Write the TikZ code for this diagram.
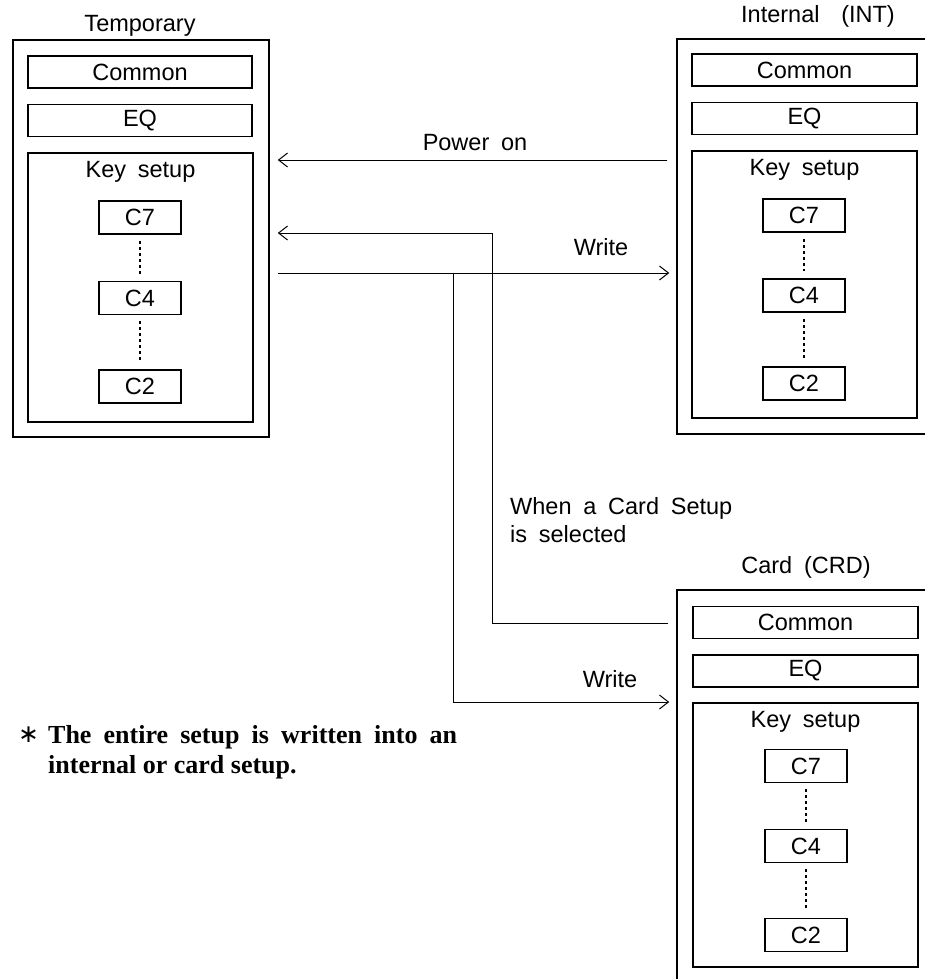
\documentclass[tikz,border=0pt]{standalone}
\usepackage{fontspec}
\setmainfont{Liberation Serif}
\newfontfamily\labfont[WordSpace=1.8]{Liberation Sans}
\newfontfamily\symfont{DejaVu Sans}
\usetikzlibrary{arrows.meta}
\begin{document}
\begin{tikzpicture}[x=1pt,y=-1pt,
  lbl/.style={font={\labfont\fontsize{23.5}{28}\selectfont}, inner sep=0pt},
  outerbox/.style={draw, line width=1.5pt, inner sep=0pt},
  keybox/.style={draw, line width=1.3pt, inner sep=0pt},
  inbox/.style={lbl, draw, line width=1.3pt},
  widebox/.style={inbox, minimum width=225pt, minimum height=32pt},
  cbox/.style={inbox, minimum width=82pt, minimum height=33pt},
  dots/.style={line width=1.6pt, dash pattern=on 3pt off 3pt, shorten <=6pt, shorten >=7pt},
  conn/.style={line width=1pt},
  arr/.style={conn, -{Straight Barb[length=9pt,width=14pt]}},
  note/.style={font={\bfseries\fontsize{26}{30}\selectfont\hyphenpenalty=10000\exhyphenpenalty=10000}, inner sep=0pt}]
\fill[white] (0,0) rectangle (924,979);
\useasboundingbox (0,0) rectangle (924,979);

% ---------- Temporary ----------
\node[outerbox, minimum width=256pt, minimum height=397pt] (tmp) at (141,238.5) {};
\node[lbl, anchor=base] (tmpT) at (140,32) {Temporary};
\node[widebox, minimum width=224pt] (tmpC) at (140,72) {Common};
\node[widebox, minimum width=224pt] (tmpE) at (140,120.5) {EQ};
\node[keybox, minimum width=225pt, minimum height=269pt] (tmpK) at (140.5,287.5) {};
\node[lbl, anchor=base] (tmpKL) at (140.5,177) {Key setup};
\node[cbox] (t7) at (140,217.5) {C7};
\node[cbox] (t4) at (140,298) {C4};
\node[cbox] (t2) at (140,386.5) {C2};
\draw[dots] (t7.south) -- (t4.north);
\draw[dots] (t4.south) -- (t2.north);

% ---------- Internal ----------
\node[outerbox, minimum width=263pt, minimum height=395pt] (int) at (808.5,236.5) {};
\node[lbl, anchor=base] (intT) at (818,23) {Internal\hspace{10pt} (INT)};
\node[widebox] (intC) at (804.5,70) {Common};
\node[widebox] (intE) at (804.5,118.5) {EQ};
\node[keybox, minimum width=225pt, minimum height=267pt] (intK) at (804.5,284.5) {};
\node[lbl, anchor=base] (intKL) at (804.5,175) {Key setup};
\node[cbox] (i7) at (804,215.5) {C7};
\node[cbox] (i4) at (804,295.5) {C4};
\node[cbox] (i2) at (804,383.5) {C2};
\draw[dots] (i7.south) -- (i4.north);
\draw[dots] (i4.south) -- (i2.north);

% ---------- Card ----------
\node[outerbox, minimum width=263pt, minimum height=410pt] (card) at (808.5,795) {};
\node[lbl, anchor=base] (cardT) at (806,573) {Card (CRD)};
\node[widebox] (cardC) at (805.5,622.5) {Common};
\node[widebox] (cardE) at (805.5,671) {EQ};
\node[keybox, minimum width=225pt, minimum height=264pt] (cardK) at (805.5,835) {};
\node[lbl, anchor=base] (cardKL) at (805.5,727) {Key setup};
\node[cbox] (c7) at (806,766) {C7};
\node[cbox] (c4) at (806,846) {C4};
\node[cbox] (c2) at (806,935) {C2};
\draw[dots] (c7.south) -- (c4.north);
\draw[dots] (c4.south) -- (c2.north);

% ---------- connectors ----------
\coordinate (yPwr) at (0,160);
\coordinate (yTop) at (0,233);
\coordinate (yW) at (0,273);
\coordinate (yRet) at (0,623);
\coordinate (yW2) at (0,702);
\coordinate (turn) at (492,233);
\coordinate (jn) at (453,273);

\draw[arr, shorten <=9pt, shorten >=8pt] (int.west |- yPwr) -- (tmp.east |- yPwr);
\node[lbl, anchor=base] (lPwr) at (475,150) {Power on};

\draw[arr, shorten <=8pt, shorten >=8pt] (card.west |- yRet) -| (turn) -- (tmp.east |- yTop);

\draw[arr, shorten <=8pt, shorten >=7pt] (tmp.east |- yW) -- (int.west |- yW);
\node[lbl, anchor=base] (lW1) at (601,255) {Write};

\draw[arr, shorten >=7pt] (jn) |- (card.west |- yW2);
\node[lbl, anchor=base] (lW2) at (610,687) {Write};

\node[lbl, anchor=base west, align=left] (lSel) at (510,542) {When a Card Setup\\is selected};

% ---------- note ----------
\node[inner sep=0pt, font={\symfont\fontsize{25}{30}\selectfont}] (star) at (28.5,735) {∗};
\node[note, anchor=base west, text width=409pt, align=justify] (noteT) at (48,743)
  {The entire setup is written into an internal or card setup.};
\end{tikzpicture}
\end{document}
